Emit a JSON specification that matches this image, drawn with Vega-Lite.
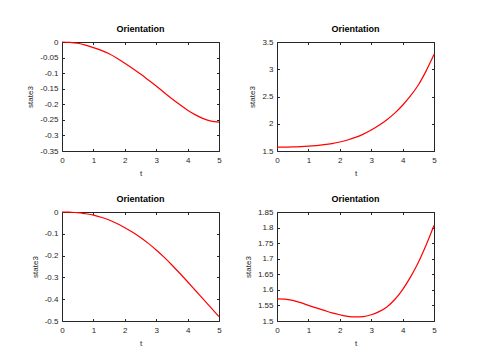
{
  "$schema": "https://vega.github.io/schema/vega-lite/v6.json",
  "autosize": "none",
  "padding": {"left": 62, "top": 42, "right": 418, "bottom": 317},
  "background": "white",
  "datasets": {
    "p1": [
      {"t": 0, "state3": 0}, {"t": 0.25, "state3": -0.001}, {"t": 0.5, "state3": -0.004}, {"t": 0.75, "state3": -0.01},
      {"t": 1, "state3": -0.018}, {"t": 1.25, "state3": -0.027}, {"t": 1.5, "state3": -0.038}, {"t": 1.75, "state3": -0.052},
      {"t": 2, "state3": -0.068}, {"t": 2.25, "state3": -0.085}, {"t": 2.5, "state3": -0.103}, {"t": 2.75, "state3": -0.122},
      {"t": 3, "state3": -0.141}, {"t": 3.25, "state3": -0.162}, {"t": 3.5, "state3": -0.182}, {"t": 3.75, "state3": -0.201},
      {"t": 4, "state3": -0.219}, {"t": 4.25, "state3": -0.234}, {"t": 4.5, "state3": -0.246}, {"t": 4.75, "state3": -0.254},
      {"t": 5, "state3": -0.257}
    ],
    "p2": [
      {"t": 0, "state3": 1.5708}, {"t": 0.25, "state3": 1.572}, {"t": 0.5, "state3": 1.575}, {"t": 0.75, "state3": 1.58},
      {"t": 1, "state3": 1.588}, {"t": 1.25, "state3": 1.6}, {"t": 1.5, "state3": 1.616}, {"t": 1.75, "state3": 1.637},
      {"t": 2, "state3": 1.665}, {"t": 2.25, "state3": 1.702}, {"t": 2.5, "state3": 1.75}, {"t": 2.75, "state3": 1.81},
      {"t": 3, "state3": 1.884}, {"t": 3.25, "state3": 1.972}, {"t": 3.5, "state3": 2.075}, {"t": 3.75, "state3": 2.196},
      {"t": 4, "state3": 2.34}, {"t": 4.25, "state3": 2.51}, {"t": 4.5, "state3": 2.71}, {"t": 4.75, "state3": 2.97},
      {"t": 5, "state3": 3.27}
    ],
    "p3": [
      {"t": 0, "state3": 0}, {"t": 0.25, "state3": -0.001}, {"t": 0.5, "state3": -0.003}, {"t": 0.75, "state3": -0.008},
      {"t": 1, "state3": -0.014}, {"t": 1.25, "state3": -0.024}, {"t": 1.5, "state3": -0.037}, {"t": 1.75, "state3": -0.053},
      {"t": 2, "state3": -0.072}, {"t": 2.25, "state3": -0.093}, {"t": 2.5, "state3": -0.117}, {"t": 2.75, "state3": -0.144},
      {"t": 3, "state3": -0.174}, {"t": 3.25, "state3": -0.207}, {"t": 3.5, "state3": -0.243}, {"t": 3.75, "state3": -0.281},
      {"t": 4, "state3": -0.32}, {"t": 4.25, "state3": -0.36}, {"t": 4.5, "state3": -0.4}, {"t": 4.75, "state3": -0.44},
      {"t": 5, "state3": -0.48}
    ],
    "p4": [
      {"t": 0, "state3": 1.5708}, {"t": 0.25, "state3": 1.57}, {"t": 0.5, "state3": 1.566}, {"t": 0.75, "state3": 1.559},
      {"t": 1, "state3": 1.55}, {"t": 1.25, "state3": 1.542}, {"t": 1.5, "state3": 1.534}, {"t": 1.75, "state3": 1.526},
      {"t": 2, "state3": 1.52}, {"t": 2.25, "state3": 1.515}, {"t": 2.5, "state3": 1.513}, {"t": 2.75, "state3": 1.514},
      {"t": 3, "state3": 1.52}, {"t": 3.25, "state3": 1.53}, {"t": 3.5, "state3": 1.545}, {"t": 3.75, "state3": 1.569},
      {"t": 4, "state3": 1.601}, {"t": 4.25, "state3": 1.641}, {"t": 4.5, "state3": 1.688}, {"t": 4.75, "state3": 1.744},
      {"t": 5, "state3": 1.807}
    ]
  },
  "columns": 2,
  "spacing": {"row": 61, "column": 58},
  "bounds": "flush",
  "concat": [
    {
      "width": 157, "height": 109,
      "data": {"name": "p1"},
      "title": {"text": "Orientation"},
      "layer": [
        {"mark": {"type": "line", "color": "#ff0000", "strokeWidth": 1.2, "interpolate": "monotone"},
         "encoding": {
           "x": {"field": "t", "type": "quantitative", "scale": {"domain": [0, 5], "nice": false, "zero": false}, "axis": {"orient": "bottom", "values": [0, 1, 2, 3, 4, 5], "title": "t"}},
           "y": {"field": "state3", "type": "quantitative", "scale": {"domain": [-0.35, 0], "nice": false, "zero": false}, "axis": {"orient": "left", "values": [-0.35, -0.3, -0.25, -0.2, -0.15, -0.1, -0.05, 0], "title": "state3"}}
         }},
        {"mark": {"type": "line", "opacity": 0},
         "encoding": {
           "x": {"field": "t", "type": "quantitative", "scale": {"domain": [0, 5], "nice": false, "zero": false}, "axis": {"orient": "top", "values": [0, 1, 2, 3, 4, 5], "labels": false, "title": null}},
           "y": {"field": "state3", "type": "quantitative", "scale": {"domain": [-0.35, 0], "nice": false, "zero": false}, "axis": {"orient": "right", "values": [-0.35, -0.3, -0.25, -0.2, -0.15, -0.1, -0.05, 0], "labels": false, "title": null}}
         }}
      ],
      "resolve": {"axis": {"x": "independent", "y": "independent"}}
    },
    {
      "width": 157, "height": 109,
      "data": {"name": "p2"},
      "title": {"text": "Orientation"},
      "layer": [
        {"mark": {"type": "line", "color": "#ff0000", "strokeWidth": 1.2, "interpolate": "monotone"},
         "encoding": {
           "x": {"field": "t", "type": "quantitative", "scale": {"domain": [0, 5], "nice": false, "zero": false}, "axis": {"orient": "bottom", "values": [0, 1, 2, 3, 4, 5], "title": "t"}},
           "y": {"field": "state3", "type": "quantitative", "scale": {"domain": [1.5, 3.5], "nice": false, "zero": false}, "axis": {"orient": "left", "values": [1.5, 2, 2.5, 3, 3.5], "title": "state3"}}
         }},
        {"mark": {"type": "line", "opacity": 0},
         "encoding": {
           "x": {"field": "t", "type": "quantitative", "scale": {"domain": [0, 5], "nice": false, "zero": false}, "axis": {"orient": "top", "values": [0, 1, 2, 3, 4, 5], "labels": false, "title": null}},
           "y": {"field": "state3", "type": "quantitative", "scale": {"domain": [1.5, 3.5], "nice": false, "zero": false}, "axis": {"orient": "right", "values": [1.5, 2, 2.5, 3, 3.5], "labels": false, "title": null}}
         }}
      ],
      "resolve": {"axis": {"x": "independent", "y": "independent"}}
    },
    {
      "width": 157, "height": 109,
      "data": {"name": "p3"},
      "title": {"text": "Orientation"},
      "layer": [
        {"mark": {"type": "line", "color": "#ff0000", "strokeWidth": 1.2, "interpolate": "monotone"},
         "encoding": {
           "x": {"field": "t", "type": "quantitative", "scale": {"domain": [0, 5], "nice": false, "zero": false}, "axis": {"orient": "bottom", "values": [0, 1, 2, 3, 4, 5], "title": "t"}},
           "y": {"field": "state3", "type": "quantitative", "scale": {"domain": [-0.5, 0], "nice": false, "zero": false}, "axis": {"orient": "left", "values": [-0.5, -0.4, -0.3, -0.2, -0.1, 0], "title": "state3"}}
         }},
        {"mark": {"type": "line", "opacity": 0},
         "encoding": {
           "x": {"field": "t", "type": "quantitative", "scale": {"domain": [0, 5], "nice": false, "zero": false}, "axis": {"orient": "top", "values": [0, 1, 2, 3, 4, 5], "labels": false, "title": null}},
           "y": {"field": "state3", "type": "quantitative", "scale": {"domain": [-0.5, 0], "nice": false, "zero": false}, "axis": {"orient": "right", "values": [-0.5, -0.4, -0.3, -0.2, -0.1, 0], "labels": false, "title": null}}
         }}
      ],
      "resolve": {"axis": {"x": "independent", "y": "independent"}}
    },
    {
      "width": 157, "height": 109,
      "data": {"name": "p4"},
      "title": {"text": "Orientation"},
      "layer": [
        {"mark": {"type": "line", "color": "#ff0000", "strokeWidth": 1.2, "interpolate": "monotone"},
         "encoding": {
           "x": {"field": "t", "type": "quantitative", "scale": {"domain": [0, 5], "nice": false, "zero": false}, "axis": {"orient": "bottom", "values": [0, 1, 2, 3, 4, 5], "title": "t"}},
           "y": {"field": "state3", "type": "quantitative", "scale": {"domain": [1.5, 1.85], "nice": false, "zero": false}, "axis": {"orient": "left", "values": [1.5, 1.55, 1.6, 1.65, 1.7, 1.75, 1.8, 1.85], "title": "state3"}}
         }},
        {"mark": {"type": "line", "opacity": 0},
         "encoding": {
           "x": {"field": "t", "type": "quantitative", "scale": {"domain": [0, 5], "nice": false, "zero": false}, "axis": {"orient": "top", "values": [0, 1, 2, 3, 4, 5], "labels": false, "title": null}},
           "y": {"field": "state3", "type": "quantitative", "scale": {"domain": [1.5, 1.85], "nice": false, "zero": false}, "axis": {"orient": "right", "values": [1.5, 1.55, 1.6, 1.65, 1.7, 1.75, 1.8, 1.85], "labels": false, "title": null}}
         }}
      ],
      "resolve": {"axis": {"x": "independent", "y": "independent"}}
    }
  ],
  "config": {
    "view": {"stroke": null},
    "font": "Liberation Sans",
    "axis": {
      "grid": false,
      "domainColor": "#262626",
      "tickColor": "#262626",
      "labelColor": "#262626",
      "titleColor": "#262626",
      "labelFont": "Liberation Sans",
      "titleFont": "Liberation Sans",
      "labelFontSize": 8,
      "titleFontSize": 8,
      "titleFontWeight": "normal",
      "tickSize": -2.5,
      "labelPadding": 6.5,
      "labelFlush": false,
      "labelOverlap": false,
      "titlePadding": 5,
      "domainWidth": 1,
      "tickWidth": 1,
      "labelExpr": "datum.value < 0 ? '-' + format(-datum.value, '~g') : format(datum.value, '~g')"
    },
    "axisBottom": {"labelPadding": 8},
    "title": {"font": "Liberation Sans", "fontSize": 9, "fontWeight": "bold", "color": "#000000", "offset": 4, "anchor": "middle", "frame": "group"}
  }
}
